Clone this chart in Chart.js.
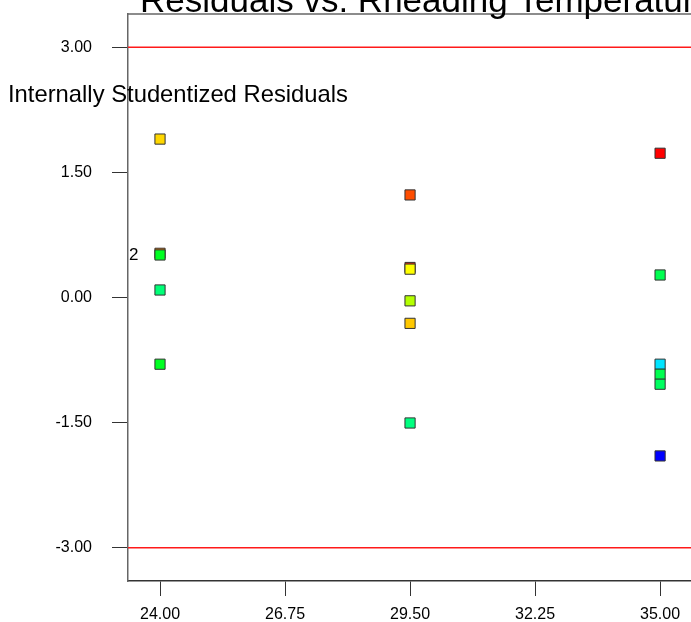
<!DOCTYPE html>
<html>
<head>
<meta charset="utf-8">
<script src="https://cdn.jsdelivr.net/npm/chart.js@4"></script>
<style>
  html, body { margin: 0; padding: 0; background: #fff; overflow: hidden; }
  #wrap { width: 691px; height: 622px; }
</style>
</head>
<body>
<div id="wrap"><canvas id="chart" width="691" height="622"></canvas></div>
<script>
// datos
const temperatura = [24, 24, 24, 24, 24, 29.5, 29.5, 29.5, 29.5, 29.5, 29.5, 35, 35, 35, 35, 35, 35];
const residuos = [1.90, 0.53, 0.51, 0.09, -0.80, 1.23, 0.36, 0.34, -0.04, -0.31, -1.505, 1.73, 0.27, -0.80, -0.92, -1.04, -1.90];
const colores = ['#ffd700', '#ff7a00', '#00ff22', '#00ff77', '#00ff22', '#ff4d00', '#ff3000', '#ffff00', '#b4ff00', '#ffc800', '#00ff80', '#ff0000', '#00ff50', '#00e5ff', '#00ff50', '#00ff60', '#0000ff'];
const xTicks = [24, 26.75, 29.5, 32.25, 35];
const yTicks = [-3, -1.5, 0, 1.5, 3];
const limites = [3, -3];

const xMin = 23.296, xMax = 35.68;
const yMin = -3.4, yMax = 3.4;
const fuente = '"Liberation Sans", Arial, sans-serif';

const puntos = temperatura.map((t, i) => ({ x: t, y: residuos[i] }));

const textos = {
    id: 'textos',
    beforeDatasetsDraw(chart) {
        // borde superior del marco
        const { ctx, chartArea } = chart;
        ctx.save();
        ctx.strokeStyle = '#666';
        ctx.lineWidth = 1.5;
        ctx.beginPath();
        ctx.moveTo(chartArea.left, chartArea.top);
        ctx.lineTo(chartArea.right, chartArea.top);
        ctx.stroke();
        ctx.restore();
    },
    afterDraw(chart) {
        const ctx = chart.ctx;
        const xs = chart.scales.x, ys = chart.scales.y;
        ctx.save();
        ctx.fillStyle = '#000';
        ctx.textBaseline = 'alphabetic';
        ctx.textAlign = 'left';
        ctx.font = '35px ' + fuente;
        ctx.fillText('Residuals vs. Rheading Temperature', 140, 12);
        ctx.font = '23.8px ' + fuente;
        ctx.fillText('Internally Studentized Residuals', 8, 102);
        ctx.font = '17px ' + fuente;
        ctx.fillText('2', xs.getPixelForValue(24) - 31, ys.getPixelForValue(0.52) + 6);
        ctx.restore();
    }
};

const datasets = limites.map(v => ({
    type: 'line',
    data: [{ x: xMin, y: v }, { x: xMax, y: v }],
    borderColor: '#ff1a1a',
    borderWidth: 1.5,
    pointRadius: 0,
    order: 2
}));
datasets.push({
    type: 'scatter',
    data: puntos,
    pointStyle: 'rect',
    pointRadius: 7.2,
    pointBackgroundColor: colores,
    pointBorderColor: '#333',
    pointBorderWidth: 1,
    order: 1
});

new Chart(document.getElementById('chart'), {
    type: 'scatter',
    data: { datasets },
    options: {
        responsive: false,
        animation: false,
        events: [],
        layout: { autoPadding: false, padding: { top: 14, left: 0, right: 0, bottom: 0 } },
        plugins: { legend: { display: false }, tooltip: { enabled: false } },
        scales: {
            x: {
                type: 'linear',
                min: xMin, max: xMax,
                afterBuildTicks: s => { s.ticks = xTicks.map(v => ({ value: v })); },
                afterFit: s => { s.height = 41; s.paddingLeft = 0; s.paddingRight = 0; },
                border: { display: true, color: '#333', width: 1.5 },
                grid: { drawOnChartArea: false, drawTicks: true, tickLength: 15, color: '#333' },
                ticks: {
                    color: '#000', font: { family: fuente, size: 16 }, padding: 9,
                    maxRotation: 0, autoSkip: false,
                    callback: v => Number(v).toFixed(2)
                }
            },
            y: {
                type: 'linear',
                min: yMin, max: yMax,
                afterBuildTicks: s => { s.ticks = yTicks.map(v => ({ value: v })); },
                afterFit: s => { s.width = 128; s.paddingTop = 0; s.paddingBottom = 0; },
                border: { display: true, color: '#666', width: 1.5 },
                grid: { drawOnChartArea: false, drawTicks: true, tickLength: 16, color: '#333' },
                ticks: {
                    color: '#000', font: { family: fuente, size: 16 }, padding: 20,
                    autoSkip: false,
                    callback: v => Number(v).toFixed(2)
                }
            }
        }
    },
    plugins: [textos]
});
</script>
</body>
</html>
